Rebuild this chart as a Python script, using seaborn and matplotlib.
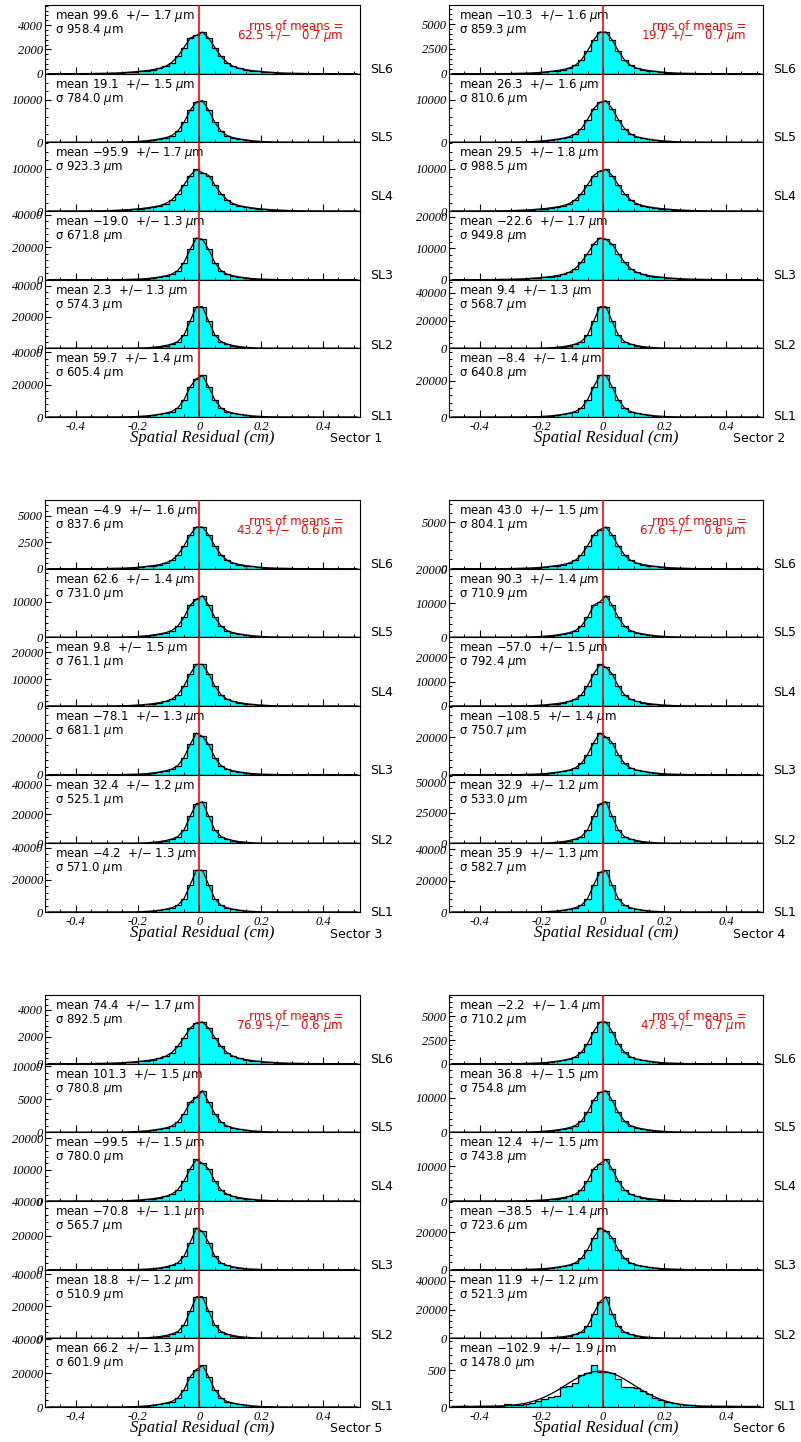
import numpy as np
import pandas as pd
import matplotlib
matplotlib.use("Agg")
import matplotlib.pyplot as plt
import seaborn as sns
from matplotlib.ticker import MultipleLocator, AutoMinorLocator, FuncFormatter

# histogram binning of the spatial residual (cm)
edges = np.round(np.arange(-0.5, 0.5201, 0.02), 2)
centers = (edges[:-1] + edges[1:]) / 2

superlayers = ["SL6", "SL5", "SL4", "SL3", "SL2", "SL1"]

# bin contents, one list per superlayer
s1_sl6 = [0,0,1,1,2,3,7,10,17,24,38,55,79,113,151,199,257,333,432,600,909,1430,2154,2926,3156,
          3430,2926,2154,1430,909,600,432,333,257,199,151,113,79,55,38,24,17,10,7,3,2,1,1,0,0,0]
s1_sl5 = [0,0,0,0,0,1,1,2,4,8,17,29,59,98,167,255,382,559,784,1078,1578,2646,4694,7546,9500,
          9800,7546,4694,2646,1578,1078,784,559,382,255,167,98,59,29,17,8,4,2,1,1,0,0,0,0,0,0]
s1_sl4 = [1,1,2,3,6,10,20,29,49,69,108,157,225,323,431,568,735,951,1235,1715,2597,4087,6154,8359,9800,
          9016,8359,6154,4087,2597,1715,1235,951,735,568,431,323,225,157,108,69,49,29,20,10,6,3,2,1,1,1]
s1_sl3 = [0,0,0,0,0,0,0,0,3,5,13,28,64,129,231,411,694,1105,1619,2339,3367,5603,10563,18633,25700,
          24900,18633,10563,5603,3367,2339,1619,1105,694,411,231,129,64,28,13,5,3,0,0,0,0,0,0,0,0,0]
s1_sl2 = [0,0,0,0,0,0,0,0,0,0,3,5,13,34,80,175,345,636,1087,1749,2677,4293,8454,17252,26500,
          26500,17252,8454,4293,2677,1749,1087,636,345,175,80,34,13,5,3,0,0,0,0,0,0,0,0,0,0,0]
s1_sl1 = [0,0,0,0,0,0,0,0,3,5,13,28,65,129,232,413,697,1109,1625,2348,3380,5624,10604,18705,23700,
          25800,18705,10604,5624,3380,2348,1625,1109,697,413,232,129,65,28,13,5,3,0,0,0,0,0,0,0,0,0]

s2_sl6 = [0,0,0,0,0,1,2,3,6,11,17,29,46,76,113,164,227,311,412,563,840,1390,2297,3402,4200,
          4200,3402,2297,1390,840,563,412,311,227,164,113,76,46,29,17,11,6,3,2,1,0,0,0,0,0,0]
s2_sl5 = [0,0,0,0,1,2,4,7,14,25,39,69,108,176,265,382,529,725,960,1313,1960,3244,5361,7938,9400,
          9800,7938,5361,3244,1960,1313,960,725,529,382,265,176,108,69,39,25,14,7,4,2,1,0,0,0,0,0]
s2_sl4 = [1,1,2,3,6,10,20,29,49,69,108,157,225,323,431,568,735,951,1235,1715,2597,4087,6154,8359,9400,
          9800,8359,6154,4087,2597,1715,1235,951,735,568,431,323,225,157,108,69,49,29,20,10,6,3,2,1,1,1]
s2_sl3 = [1,1,3,4,8,13,27,40,66,93,146,212,305,437,583,769,994,1285,1670,2319,3511,5525,8321,11302,13250,
          12850,11302,8321,5525,3511,2319,1670,1285,994,769,583,437,305,212,146,93,66,40,27,13,8,4,3,1,1,1]
s2_sl2 = [0,0,0,0,0,0,0,0,0,0,3,6,15,39,90,198,390,720,1230,1980,3030,4860,9570,19530,30000,
          30000,19530,9570,4860,3030,1980,1230,720,390,198,90,39,15,6,3,0,0,0,0,0,0,0,0,0,0,0]
s2_sl1 = [0,0,0,0,0,0,0,0,2,5,12,25,58,115,207,368,621,989,1449,2093,3013,5014,9453,16675,23000,
          23000,16675,9453,5014,3013,2093,1449,989,621,368,207,115,58,25,12,5,2,0,0,0,0,0,0,0,0,0]

s3_sl6 = [0,0,0,0,0,1,2,3,6,10,16,28,43,71,107,154,213,292,387,529,790,1307,2161,3200,3950,
          3950,3200,2161,1307,790,529,387,292,213,154,107,71,43,28,16,10,6,3,2,1,0,0,0,0,0,0]
s3_sl5 = [0,0,0,0,0,1,1,2,5,9,20,35,70,117,199,304,456,667,936,1287,1884,3159,5604,9009,10760,
          11700,9009,5604,3159,1884,1287,936,667,456,304,199,117,70,35,20,9,5,2,1,1,0,0,0,0,0,0]
s3_sl4 = [0,0,0,0,0,2,2,3,6,12,26,47,93,155,264,403,605,884,1240,1705,2496,4185,7425,11935,15500,
          15500,11935,7425,4185,2496,1705,1240,884,605,403,264,155,93,47,26,12,6,3,2,2,0,0,0,0,0,0]
s3_sl3 = [0,0,0,0,0,0,0,0,2,4,11,25,56,112,202,358,605,963,1411,2038,2934,4883,9206,16240,22400,
          20600,16240,9206,4883,2934,2038,1411,963,605,358,202,112,56,25,11,4,2,0,0,0,0,0,0,0,0,0]
s3_sl2 = [0,0,0,0,0,0,0,0,0,0,3,6,14,37,86,188,371,684,1169,1881,2879,4617,9092,18554,27100,
          28500,18554,9092,4617,2879,1881,1169,684,371,188,86,37,14,6,3,0,0,0,0,0,0,0,0,0,0,0]
s3_sl1 = [0,0,0,0,0,0,0,0,0,0,3,5,13,34,78,172,338,624,1066,1716,2626,4212,8294,16926,26000,
          26000,16926,8294,4212,2626,1716,1066,624,338,172,78,34,13,5,3,0,0,0,0,0,0,0,0,0,0,0]

s4_sl6 = [0,0,0,0,0,1,2,3,6,11,18,32,50,81,122,176,243,333,441,603,900,1490,2462,3645,4230,
          4500,3645,2462,1490,900,603,441,333,243,176,122,81,50,32,18,11,6,3,2,1,0,0,0,0,0,0]
s4_sl5 = [0,0,0,0,0,1,1,2,5,10,21,37,73,122,207,317,476,695,976,1342,1964,3294,5844,9394,10400,
          12200,9394,5844,3294,1964,1342,976,695,476,317,207,122,73,37,21,10,5,2,1,1,0,0,0,0,0,0]
s4_sl4 = [0,0,0,0,0,2,2,3,7,14,29,51,102,170,289,442,663,969,1360,1870,2737,4590,8143,13090,17000,
          15800,13090,8143,4590,2737,1870,1360,969,663,442,289,170,102,51,29,14,7,3,2,2,0,0,0,0,0,0]
s4_sl3 = [0,0,0,0,0,2,2,4,9,18,38,67,134,223,379,580,870,1271,1784,2453,3590,6021,10682,17171,22300,
          20100,17171,10682,6021,3590,2453,1784,1271,870,580,379,223,134,67,38,18,9,4,2,2,0,0,0,0,0,0]
s4_sl2 = [0,0,0,0,0,0,0,0,0,0,3,7,17,44,102,224,442,816,1394,2244,3434,5508,10846,22134,32300,
          34000,22134,10846,5508,3434,2244,1394,816,442,224,102,44,17,7,3,0,0,0,0,0,0,0,0,0,0,0]
s4_sl1 = [0,0,0,0,0,0,0,0,0,0,3,5,13,34,80,175,345,636,1087,1749,2677,4293,8454,17252,25200,
          26500,17252,8454,4293,2677,1749,1087,636,345,175,80,34,13,5,3,0,0,0,0,0,0,0,0,0,0,0]

s5_sl6 = [0,0,1,1,2,3,6,9,16,22,34,50,71,102,136,180,233,301,391,543,822,1293,1947,2644,3040,
          3100,2644,1947,1293,822,543,391,301,233,180,136,102,71,50,34,22,16,9,6,3,2,1,1,0,0,0]
s5_sl5 = [0,0,0,0,0,0,1,1,2,5,10,18,35,59,100,153,230,336,472,649,950,1593,2826,4543,5300,
          6300,4543,2826,1593,950,649,472,336,230,153,100,59,35,18,10,5,2,1,1,0,0,0,0,0,0,0]
s5_sl4 = [0,0,0,0,0,1,1,3,5,11,23,40,80,133,226,346,519,758,1064,1463,2141,3591,6371,10241,13300,
          12000,10241,6371,3591,2141,1463,1064,758,519,346,226,133,80,40,23,11,5,3,1,1,0,0,0,0,0,0]
s5_sl3 = [0,0,0,0,0,0,0,0,0,0,2,5,12,32,73,161,317,586,1000,1610,2464,3953,7784,15884,24400,
          22400,15884,7784,3953,2464,1610,1000,586,317,161,73,32,12,5,2,0,0,0,0,0,0,0,0,0,0,0]
s5_sl2 = [0,0,0,0,0,0,0,0,0,0,3,5,13,34,78,172,338,624,1066,1716,2626,4212,8294,16926,26000,
          26000,16926,8294,4212,2626,1716,1066,624,338,172,78,34,13,5,3,0,0,0,0,0,0,0,0,0,0,0]
s5_sl1 = [0,0,0,0,0,0,0,0,2,5,12,27,61,123,221,392,662,1054,1544,2230,3210,5341,10070,17763,22000,
          24500,17763,10070,5341,3210,2230,1544,1054,662,392,221,123,61,27,12,5,2,0,0,0,0,0,0,0,0,0]

s6_sl6 = [0,0,0,0,0,0,0,1,2,4,7,13,26,44,75,114,172,251,352,484,708,1188,2108,3388,4400,
          4400,3388,2108,1188,708,484,352,251,172,114,75,44,26,13,7,4,2,1,0,0,0,0,0,0,0,0]
s6_sl5 = [0,0,0,0,0,1,1,2,5,10,21,36,73,121,206,315,472,690,968,1331,1948,3267,5796,9317,11600,
          12100,9317,5796,3267,1948,1331,968,690,472,315,206,121,73,36,21,10,5,2,1,1,0,0,0,0,0,0]
s6_sl4 = [0,0,0,0,0,1,1,2,5,10,20,36,71,119,202,309,464,678,952,1309,1916,3213,5700,9163,10700,
          11900,9163,5700,3213,1916,1309,952,678,464,309,202,119,71,36,20,10,5,2,1,1,0,0,0,0,0,0]
s6_sl3 = [0,0,0,0,0,2,2,4,9,18,38,67,133,222,377,577,866,1265,1776,2442,3574,5994,10634,17094,22200,
          20600,17094,10634,5994,3574,2442,1776,1265,866,577,377,222,133,67,38,18,9,4,2,2,0,0,0,0,0,0]
s6_sl2 = [0,0,0,0,0,0,0,0,0,0,3,5,13,34,80,175,345,636,1087,1749,2677,4293,8454,17252,25500,
          29000,17252,8454,4293,2677,1749,1087,636,345,175,80,34,13,5,3,0,0,0,0,0,0,0,0,0,0,0]
s6_sl1 = [5,5,8,6,10,8,12,15,18,45,22,30,40,60,80,105,130,150,265,280,330,440,455,565,470,
          480,465,380,270,270,255,215,170,125,90,70,60,45,30,22,15,12,15,10,8,12,6,5,4,3,3]
# the low statistics SL1 of sector 6 has a visibly smoother fitted curve
s6_sl1_fit = [8,8,9,9,9,10,11,12,15,20,27,37,52,73,100,134,175,221,273,326,377,422,457,480,488,
              480,457,422,377,326,273,221,175,134,100,73,52,37,27,20,15,12,11,10,9,9,9,8,8,8,8]

# fit results printed in each panel (micrometres), order SL6 ... SL1
means_s1 = [99.6, 19.1, -95.9, -19.0, 2.3, 59.7]
errs_s1 = [1.7, 1.5, 1.7, 1.3, 1.3, 1.4]
sigmas_s1 = [958.4, 784.0, 923.3, 671.8, 574.3, 605.4]
means_s2 = [-10.3, 26.3, 29.5, -22.6, 9.4, -8.4]
errs_s2 = [1.6, 1.6, 1.8, 1.7, 1.3, 1.4]
sigmas_s2 = [859.3, 810.6, 988.5, 949.8, 568.7, 640.8]
means_s3 = [-4.9, 62.6, 9.8, -78.1, 32.4, -4.2]
errs_s3 = [1.6, 1.4, 1.5, 1.3, 1.2, 1.3]
sigmas_s3 = [837.6, 731.0, 761.1, 681.1, 525.1, 571.0]
means_s4 = [43.0, 90.3, -57.0, -108.5, 32.9, 35.9]
errs_s4 = [1.5, 1.4, 1.5, 1.4, 1.2, 1.3]
sigmas_s4 = [804.1, 710.9, 792.4, 750.7, 533.0, 582.7]
means_s5 = [74.4, 101.3, -99.5, -70.8, 18.8, 66.2]
errs_s5 = [1.7, 1.5, 1.5, 1.1, 1.2, 1.3]
sigmas_s5 = [892.5, 780.8, 780.0, 565.7, 510.9, 601.9]
means_s6 = [-2.2, 36.8, 12.4, -38.5, 11.9, -102.9]
errs_s6 = [1.4, 1.5, 1.5, 1.4, 1.2, 1.9]
sigmas_s6 = [710.2, 754.8, 743.8, 723.6, 521.3, 1478.0]

rms_means = [62.5, 19.7, 43.2, 67.6, 76.9, 47.8]
rms_errs = [0.7, 0.7, 0.6, 0.6, 0.6, 0.7]

# y axis label step per panel
ystep_s1 = [2000, 10000, 10000, 20000, 20000, 20000]
ystep_s2 = [2500, 10000, 10000, 10000, 20000, 20000]
ystep_s3 = [2500, 10000, 10000, 20000, 20000, 20000]
ystep_s4 = [5000, 10000, 10000, 20000, 25000, 20000]
ystep_s5 = [2000, 5000, 10000, 20000, 20000, 20000]
ystep_s6 = [2500, 10000, 10000, 20000, 20000, 500]

counts_all = [
    [s1_sl6, s1_sl5, s1_sl4, s1_sl3, s1_sl2, s1_sl1],
    [s2_sl6, s2_sl5, s2_sl4, s2_sl3, s2_sl2, s2_sl1],
    [s3_sl6, s3_sl5, s3_sl4, s3_sl3, s3_sl2, s3_sl1],
    [s4_sl6, s4_sl5, s4_sl4, s4_sl3, s4_sl2, s4_sl1],
    [s5_sl6, s5_sl5, s5_sl4, s5_sl3, s5_sl2, s5_sl1],
    [s6_sl6, s6_sl5, s6_sl4, s6_sl3, s6_sl2, s6_sl1],
]
means_all = [means_s1, means_s2, means_s3, means_s4, means_s5, means_s6]
errs_all = [errs_s1, errs_s2, errs_s3, errs_s4, errs_s5, errs_s6]
sigmas_all = [sigmas_s1, sigmas_s2, sigmas_s3, sigmas_s4, sigmas_s5, sigmas_s6]
ystep_all = [ystep_s1, ystep_s2, ystep_s3, ystep_s4, ystep_s5, ystep_s6]

# tick labels: italic serif, like the original
plt.rcParams["font.family"] = "Liberation Serif"
plt.rcParams["font.style"] = "italic"
plt.rcParams["axes.linewidth"] = 0.8

W, H = 801, 1442
fig = plt.figure(figsize=(W / 100, H / 100), dpi=100)

# pixel boxes of the six sector blocks: left, right, top
blocks = [(45, 360, 5), (449, 763, 5), (45, 360, 500),
          (449, 763, 500), (45, 360, 995), (449, 763, 995)]
block_h = 412
panel_h = block_h / 6
sl_offset = [4, 5, 14, 4, 3, 0]  # where the SL labels sit above each panel bottom (px)

sans = dict(family="DejaVu Sans", style="normal")


def num(v):
    return f"{v:.1f}".replace("-", "\u2212")


def xfmt(v, pos):
    return "0" if abs(v) < 1e-9 else f"{v:.1f}"


for si in range(6):
    x0, x1, top = blocks[si]
    wpx = x1 - x0
    for j in range(6):
        counts = counts_all[si][j]
        fit = s6_sl1_fit if (si == 5 and j == 5) else counts
        df = pd.DataFrame({"residual": centers, "entries": counts, "fit": fit})
        ax = fig.add_axes([x0 / W, 1 - (top + (j + 1) * panel_h) / H, wpx / W, panel_h / H])

        sns.histplot(data=df, x="residual", weights="entries", bins=list(edges),
                     element="step", fill=True, color="#00ffff", alpha=1,
                     edgecolor="black", linewidth=0.9, ax=ax)
        sns.lineplot(data=df, x="residual", y="fit", color="black", linewidth=0.9, ax=ax)
        ax.axvline(0, color="red", lw=1.2, zorder=5)

        ax.set_xlim(-0.5, 0.52)
        ax.set_ylim(0, 1.65 * max(counts))
        ax.set_xlabel("")
        ax.set_ylabel("")

        ax.xaxis.set_major_locator(MultipleLocator(0.2))
        ax.xaxis.set_minor_locator(MultipleLocator(0.05))
        ax.xaxis.set_major_formatter(FuncFormatter(xfmt))
        ax.yaxis.set_major_locator(MultipleLocator(ystep_all[si][j]))
        ax.yaxis.set_minor_locator(AutoMinorLocator(5))
        ax.yaxis.set_major_formatter(FuncFormatter(lambda v, p: f"{v:.0f}"))
        ax.tick_params(axis="x", which="major", direction="in", length=5, width=0.8,
                       labelsize=9, pad=3, labelbottom=(j == 5))
        ax.tick_params(axis="x", which="minor", direction="in", length=2.5, width=0.7)
        ax.tick_params(axis="y", which="major", direction="in", length=4, width=0.8,
                       labelsize=9, pad=1.5)
        ax.tick_params(axis="y", which="minor", direction="in", length=2, width=0.7)
        for sp in ax.spines.values():
            sp.set_color("black")

        m, e, s = means_all[si][j], errs_all[si][j], sigmas_all[si][j]
        ax.text(10 / wpx, 1 - 11 / panel_h, f"mean {num(m)}  +/\u2212 {e:.1f} $\\mu$m",
                transform=ax.transAxes, ha="left", va="center", fontsize=8.5, **sans)
        ax.text(10 / wpx, 1 - 25 / panel_h, f"σ {s:.1f} $\\mu$m",
                transform=ax.transAxes, ha="left", va="center", fontsize=8.5, **sans)
        ax.text(1 + 10 / wpx, sl_offset[j] / panel_h, superlayers[j],
                transform=ax.transAxes, ha="left", va="center", fontsize=9, **sans)

        if j == 0:
            ax.text(1 - 17 / wpx, 1 - 21.5 / panel_h, "rms of means =", color="red",
                    transform=ax.transAxes, ha="right", va="center", fontsize=8.5, **sans)
            ax.text(1 - 17 / wpx, 1 - 31 / panel_h,
                    f"{rms_means[si]:.1f} +/\u2212   {rms_errs[si]:.1f} $\\mu$m", color="red",
                    transform=ax.transAxes, ha="right", va="center", fontsize=8.5, **sans)
        if j == 5:
            ax.text(0.5, -21 / panel_h, "Spatial Residual (cm)", transform=ax.transAxes,
                    ha="center", va="center", fontsize=12)
            ax.text(1 - 30 / wpx, -22 / panel_h, f"Sector {si + 1}", transform=ax.transAxes,
                    ha="left", va="center", fontsize=9, **sans)

fig.savefig("out.png", dpi=100, facecolor="white")
